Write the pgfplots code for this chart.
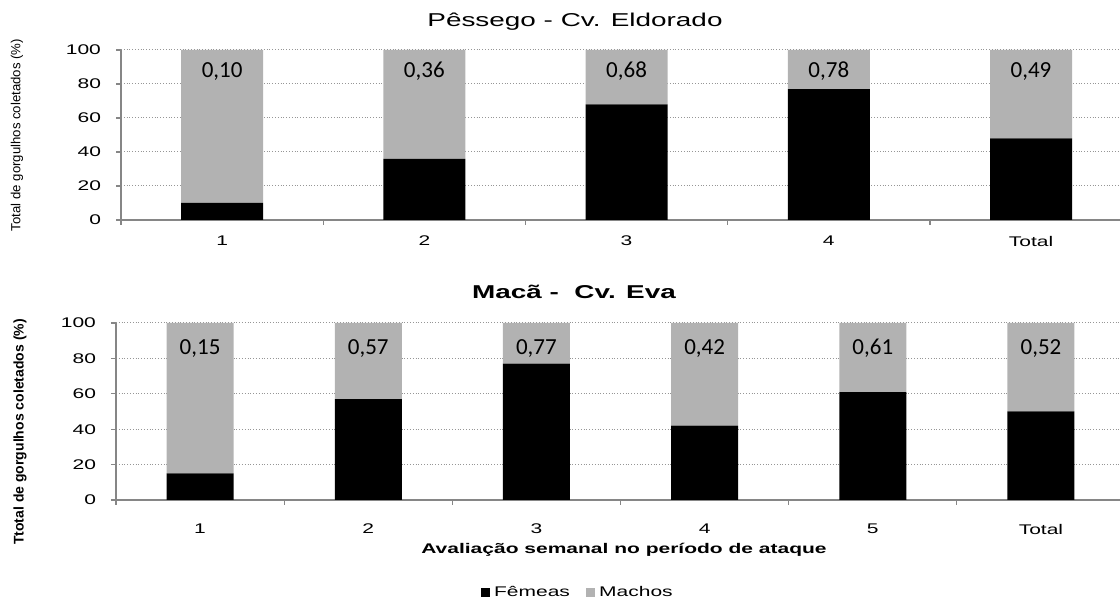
\documentclass[border=0pt]{standalone}
\usepackage{fontspec}
\setmainfont{Liberation Sans}
\newfontfamily\wfont[FakeStretch=1.5]{Liberation Sans}
\newfontfamily\nfont{Liberation Sans}
\newfontfamily\cfont{Carlito}
\usepackage{pgfplots}
\usepackage{pgfplotstable}
\pgfplotsset{compat=1.18}
\definecolor{machos}{RGB}{178,178,178}
\definecolor{axgray}{RGB}{134,134,134}
\definecolor{gridgray}{RGB}{150,150,150}

\tikzset{vlab/.style={font=\cfont\fontsize{11.5}{12}\selectfont, anchor=center, text=black}}

\pgfplotstableread{
x f m
0 10 90
1 36 64
2 68 32
3 77 23
4 48 52
}\pessego

\pgfplotstableread{
x f m
0 15 85
1 57 43
2 77 23
3 42 58
4 61 39
5 50 50
}\maca

\pgfplotsset{
  mystyle/.style={
    scale only axis,
    ybar stacked,
    ymin=0, ymax=100,
    ytick={0,20,...,100},
    xtick=data,
    axis x line*=bottom,
    axis y line*=left,
    axis line style={-, draw=axgray, line width=0.8pt},
    tick align=outside,
    major x tick style={draw=none},
    major y tick style={draw=axgray, line width=0.6pt},
    major tick length=2.5pt,
    minor tick length=2.5pt,
    minor x tick style={draw=axgray, line width=0.6pt},
    ymajorgrids,
    major grid style={densely dotted, draw=gridgray, line width=0.5pt},
    ticklabel style={font=\wfont\fontsize{7}{8}\selectfont},
    /pgf/number format/assume math mode=true,
    yticklabel style={xshift=-4pt},
    xticklabel style={yshift=-2pt},
  },
}

\begin{document}
\begin{tikzpicture}
\useasboundingbox (0,0) rectangle (560pt,299.5pt);

% Top chart
\begin{axis}[mystyle,
  at={(60.5pt,189.5pt)}, anchor=south west,
  width=499.5pt, height=85pt,
  xmin=-0.5, xmax=4.44,
  bar width=41pt,
  minor xtick={-0.5,0.5,1.5,2.5,3.5},
  xticklabels={1,2,3,4,Total},
]
\addplot[fill=black, draw=none] table[x=x, y=f] {\pessego};
\addplot[fill=machos, draw=none] table[x=x, y=m] {\pessego};
\coordinate (a0) at (axis cs:0,87.5);
\coordinate (a1) at (axis cs:1,87.5);
\coordinate (a2) at (axis cs:2,87.5);
\coordinate (a3) at (axis cs:3,87.5);
\coordinate (a4) at (axis cs:4,87.5);
\end{axis}
\node[vlab] at (a0) {0,10};
\node[vlab] at (a1) {0,36};
\node[vlab] at (a2) {0,68};
\node[vlab] at (a3) {0,78};
\node[vlab] at (a4) {0,49};

% Bottom chart
\begin{axis}[mystyle,
  at={(58pt,49.5pt)}, anchor=south west,
  width=502pt, height=88.5pt,
  xmin=-0.5, xmax=5.47,
  bar width=33.5pt,
  minor xtick={-0.5,0.5,1.5,2.5,3.5,4.5},
  xticklabels={1,2,3,4,5,Total},
  xticklabel style={yshift=-4pt},
  legend style={draw=none, legend columns=2, at={(0.461,-0.525)}, anchor=center,
    font=\wfont\fontsize{7}{8}\selectfont,
    /tikz/every even column/.append style={column sep=6pt},
    inner sep=1pt},
  legend image code/.code={\fill[#1] (0pt,-2.2pt) rectangle (4.6pt,2.4pt);},
]
\addplot[fill=black, draw=none] table[x=x, y=f] {\maca};
\addplot[fill=machos, draw=none] table[x=x, y=m] {\maca};
\coordinate (b0) at (axis cs:0,85.5);
\coordinate (b1) at (axis cs:1,85.5);
\coordinate (b2) at (axis cs:2,85.5);
\coordinate (b3) at (axis cs:3,85.5);
\coordinate (b4) at (axis cs:4,85.5);
\coordinate (b5) at (axis cs:5,85.5);
\legend{Fêmeas, Machos}
\end{axis}
\node[vlab] at (b0) {0,15};
\node[vlab] at (b1) {0,57};
\node[vlab] at (b2) {0,77};
\node[vlab] at (b3) {0,42};
\node[vlab] at (b4) {0,61};
\node[vlab] at (b5) {0,52};

% Titles and labels
\node[font=\wfont\fontsize{9.3}{10}\selectfont] at (287.5pt,288.5pt) {Pêssego - Cv. Eldorado};
\node[font=\wfont\bfseries\fontsize{9.3}{10}\selectfont] at (287pt,153.5pt) {Macã -\ \ Cv. Eva};
\node[font=\wfont\bfseries\fontsize{7}{8}\selectfont] at (312pt,24.5pt) {Avaliação semanal no período de ataque};
\node[rotate=90, font=\nfont\fontsize{6.6}{7}\selectfont] at (8.5pt,232pt) {Total de gorgulhos coletados (\%)};
\node[rotate=90, font=\nfont\bfseries\fontsize{7}{8}\selectfont] at (10pt,83.5pt) {Ttotal de gorgulhos coletados (\%)};
\end{tikzpicture}
\end{document}
